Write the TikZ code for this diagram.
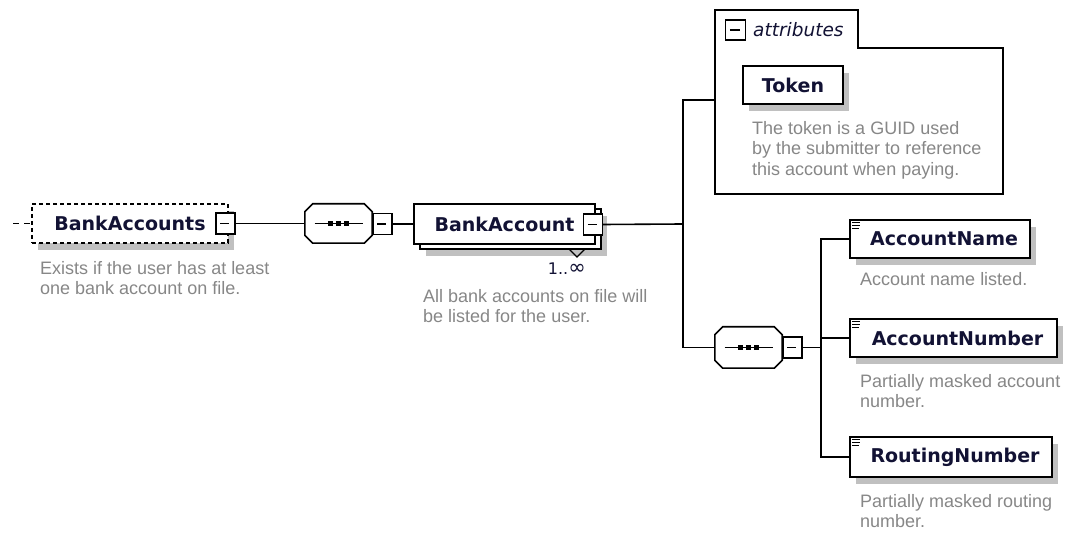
\documentclass[tikz,border=0pt]{standalone}
\usepackage{fontspec}
\setmainfont{Liberation Sans}
\newfontfamily\namefont{DejaVu Sans}
\usetikzlibrary{calc,shadows}
\definecolor{ink}{RGB}{18,18,52}
\definecolor{desc}{RGB}{135,135,135}
\definecolor{shadowgray}{RGB}{192,192,192}

\tikzset{
	link/.style={line width=1.6pt},
	shadowed/.style={drop shadow={shadow xshift=6pt,shadow yshift=-7pt,fill=shadowgray,opacity=1}},
	elem/.style={draw,line width=1.6pt,fill=white,inner sep=0pt,text=ink,font=\namefont\fontsize{19}{21}\selectfont\bfseries,shadowed},
	seq/.style={minimum width=67pt,minimum height=39pt,inner sep=0pt},
	minus/.style={draw,line width=1.3pt,fill=white,minimum width=19pt,minimum height=21pt,inner sep=0pt},
	note/.style={anchor=north west,align=left,inner sep=0pt,text=desc,font=\fontsize{18}{20.5}\selectfont},
}

\begin{document}
\begin{tikzpicture}[x=1pt,y=-1pt]
	\useasboundingbox[fill=white] (0,0) rectangle (1066,534);
	
	%ROOT ELEMENT (optional)
	\node[elem,dashed,dash pattern=on 4pt off 3pt,minimum width=196pt,minimum height=39pt] (accts) at (130,223.5) {BankAccounts\hspace{26pt}};
	\node[minus] (acctsMinus) at (225.5,223.5) {};
	\draw[line width=1.2pt] (acctsMinus.west) ++(5,0) -- ++(9,0);
	\coordinate (rootIn) at (13,223.5);
	\draw[link,dash pattern=on 6pt off 5pt] (rootIn) -- (accts.west);
	\node[note] (acctsNote) at (40,261) {Exists if the user has at least\\one bank account on file.};
	
	%SEQUENCES
	\node[seq] (seqA) at (338.5,223.5) {};
	\node[seq,minimum height=41pt] (seqB) at (748.5,347.5) {};
	\foreach \s in {seqA,seqB} {
		\fill[shadowgray,shift={(6,7)}] ($(\s.north west)+(8,0)$) -- ($(\s.north east)+(-8,0)$) -- ($(\s.north east)+(0,8)$) -- ($(\s.south east)+(0,-8)$) -- ($(\s.south east)+(-8,0)$) -- ($(\s.south west)+(8,0)$) -- ($(\s.south west)+(0,-8)$) -- ($(\s.north west)+(0,8)$) -- cycle;
		\draw[line width=1.6pt,fill=white] ($(\s.north west)+(8,0)$) -- ($(\s.north east)+(-8,0)$) -- ($(\s.north east)+(0,8)$) -- ($(\s.south east)+(0,-8)$) -- ($(\s.south east)+(-8,0)$) -- ($(\s.south west)+(8,0)$) -- ($(\s.south west)+(0,-8)$) -- ($(\s.north west)+(0,8)$) -- cycle;
		\draw[line width=1.3pt] (\s.center) ++(-24,0) -- ++(48,0);
		\foreach \d in {-8,0,8} \fill ([xshift=\d pt]\s.center) +(-2.5,-2.5) rectangle +(2.5,2.5);
	}
	\node[minus] (seqAMinus) at (382.5,224) {};
	\draw[line width=1.2pt] (seqAMinus.west) ++(5,0) -- ++(9,0);
	\node[minus] (seqBMinus) at (792.5,347.5) {};
	\draw[line width=1.2pt] (seqBMinus.west) ++(5,0) -- ++(9,0);
	
	%REPEATED ELEMENT
	\node[elem,minimum width=181pt,minimum height=40pt] (acctBack) at (510.5,229) {};
	\node[draw,line width=1.6pt,fill=white,minimum width=181pt,minimum height=40pt,inner sep=0pt,text=ink,font=\namefont\fontsize{19}{21}\selectfont\bfseries] (acct) at (504.5,224) {BankAccount\hspace{14pt}};
	\node[minus] (acctMinus) at (593,224.5) {};
	\draw[line width=1.2pt] (acctMinus.west) ++(5,0) -- ++(9,0);
	\draw[line width=1.1pt] (569,249) -- (577,257) -- (585,249);	%repeat notch
	\node[text=ink,font=\namefont\fontsize{16}{18}\selectfont,anchor=base east,inner sep=0pt] (acctCard) at (586,275) {1..{\fontsize{21}{21}\selectfont∞}};
	\node[note] (acctNote) at (423,289) {All bank accounts on file will\\be listed for the user.};
	
	%ATTRIBUTES
	\draw[line width=1.6pt,fill=white] (715,10) -- (858,10) -- (858,48) -- (1003,48) -- (1003,194) -- (715,194) -- cycle;
	\node[minus,minimum width=20pt,minimum height=20pt] (attrMinus) at (735.5,30) {};
	\draw[line width=1.2pt] (attrMinus.west) ++(5,0) -- ++(10,0);
	\node[anchor=west,inner sep=0pt,text=ink,font=\namefont\fontsize{18.5}{20}\selectfont\itshape] (attrLabel) at (753,30) {attributes};
	\node[elem,minimum width=100pt,minimum height=38pt] (token) at (793,85) {Token};
	\node[note] (tokenNote) at (752,121) {The token is a GUID used\\by the submitter to reference\\this account when paying.};
	\coordinate (attrW) at (715,100);
	
	%CHILD ELEMENTS
	\node[elem,minimum width=180pt,minimum height=38pt] (name) at (940,239) {\hspace{8pt}AccountName};
	\node[elem,minimum width=207pt,minimum height=38pt] (number) at (953.5,338) {\hspace{8pt}AccountNumber};
	\node[elem,minimum width=202pt,minimum height=40pt] (routing) at (951,457) {\hspace{8pt}RoutingNumber};
	\foreach \n in {name,number,routing}
		\foreach \k/\w in {3/8,6/8,9/7} \draw[line width=1pt] (\n.north west) ++(3,\k) -- ++(\w,0);	%text icon
	\node[note] (nameNote) at (860,272) {Account name listed.};
	\node[note] (numberNote) at (860,374) {Partially masked account\\number.};
	\node[note] (routingNote) at (860,494) {Partially masked routing\\number.};
	
	%CONNECTORS
	\coordinate (jA) at (683,224);
	\coordinate (jB) at (821,347.5);
	\draw[link] (acctsMinus.east) -- (seqA.west);
	\draw[link] (seqAMinus.east) -- (acct.west);
	\draw[link] (acctMinus.east) -- (jA);
	\draw[link] (attrW) -| (jA) |- (seqB.west);
	\draw[link] (seqBMinus.east) -- (jB);
	\draw[link] (name.west) -| (jB) |- (routing.west);
	\draw[link] (number.west) -- (number.west -| jB);
\end{tikzpicture}
\end{document}
